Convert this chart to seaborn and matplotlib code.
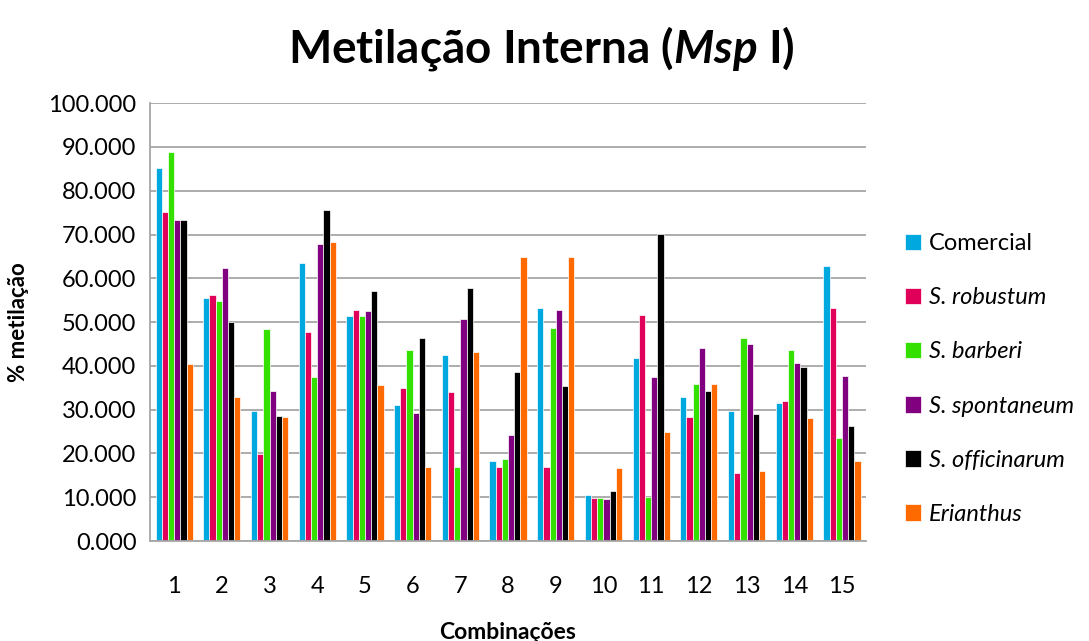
import numpy as np
import pandas as pd
import matplotlib
matplotlib.use('Agg')
import matplotlib.pyplot as plt
import seaborn as sns
from matplotlib.ticker import FormatStrFormatter

# Valores (% metilação por combinação)
combinacoes = [str(i) for i in range(1, 16)]
comercial = [85.1, 55.4, 29.8, 63.6, 51.4, 31.0, 42.4, 18.2, 53.2, 10.5, 41.7, 33.0, 29.7, 31.6, 62.9]
s_robustum = [75.1, 56.2, 19.8, 47.8, 52.8, 35.0, 34.0, 16.9, 16.9, 9.9, 51.6, 28.3, 15.6, 32.0, 53.2]
s_barberi = [88.8, 54.8, 48.5, 37.4, 51.4, 43.7, 16.9, 18.8, 48.7, 9.9, 10.0, 35.9, 46.4, 43.7, 23.6]
s_spontaneum = [73.3, 62.3, 34.3, 67.9, 52.5, 29.2, 50.8, 24.3, 52.8, 9.5, 37.4, 44.1, 45.1, 40.7, 37.7]
s_officinarum = [73.3, 50.1, 28.6, 75.7, 57.2, 46.4, 57.9, 38.7, 35.3, 11.5, 70.2, 34.3, 28.9, 39.8, 26.3]
erianthus = [40.4, 33.0, 28.3, 68.3, 35.6, 16.9, 43.1, 64.9, 64.9, 16.6, 24.9, 35.9, 15.9, 28.2, 18.2]

series = ['Comercial', 'S. robustum', 'S. barberi', 'S. spontaneum', 'S. officinarum', 'Erianthus']
cores = ['#00a8e0', '#e0005a', '#33e000', '#800080', '#000000', '#ff6a00']

df = pd.DataFrame({
    'Combinações': combinacoes,
    'Comercial': comercial,
    'S. robustum': s_robustum,
    'S. barberi': s_barberi,
    'S. spontaneum': s_spontaneum,
    'S. officinarum': s_officinarum,
    'Erianthus': erianthus,
})
df_long = df.melt(id_vars='Combinações', var_name='Série', value_name='valor')

sns.set_style('white')
plt.rcParams['font.family'] = ['Lato', 'DejaVu Sans']
plt.rcParams['text.color'] = 'black'
plt.rcParams['axes.labelcolor'] = 'black'
plt.rcParams['mathtext.fontset'] = 'custom'
plt.rcParams['mathtext.it'] = 'Lato:italic:bold'
plt.rcParams['mathtext.rm'] = 'Lato:bold'

fig = plt.figure(figsize=(10.89, 6.41), dpi=100)
ax = fig.add_axes([0.138, 0.156, 0.657, 0.683])

sns.barplot(data=df_long, x='Combinações', y='valor', hue='Série', hue_order=series,
            palette=cores, saturation=1, width=0.78, ax=ax,
            edgecolor='white', linewidth=0.5, errorbar=None)

# Eixos
ax.set_ylim(0, 100)
ax.set_yticks(np.arange(0, 101, 10))
ax.yaxis.set_major_formatter(FormatStrFormatter('%.3f'))
ax.grid(axis='y', color='#a6a6a6', linewidth=1.3)
ax.set_axisbelow(True)
for s in ['top', 'right']:
    ax.spines[s].set_visible(False)
for s in ['left', 'bottom']:
    ax.spines[s].set_color('#a6a6a6')
    ax.spines[s].set_linewidth(1.3)
ax.tick_params(axis='y', labelsize=17, length=4, color='#a6a6a6', labelcolor='black', pad=6)
ax.tick_params(axis='x', labelsize=17, length=0, labelcolor='black', pad=25)
ax.set_ylabel('% metilação', fontsize=16, fontweight='bold', labelpad=14)
ax.set_xlabel('Combinações', fontsize=16.5, fontweight='bold', labelpad=18)

# Legenda
handles, labels = ax.get_legend_handles_labels()
leg = ax.legend(handles, labels, loc='center left', bbox_to_anchor=(1.025, 0.37),
                frameon=False, fontsize=17, handlelength=0.7, handleheight=0.7,
                handletextpad=0.3, labelspacing=1.4)
for i, t in enumerate(leg.get_texts()):
    if i > 0:
        t.set_fontstyle('italic')

fig.text(0.497, 0.925, r'Metilação Interna ($\mathit{Msp}$ I)', ha='center', va='center',
         fontsize=33, fontweight='bold')

fig.savefig('out.png', dpi=100)
